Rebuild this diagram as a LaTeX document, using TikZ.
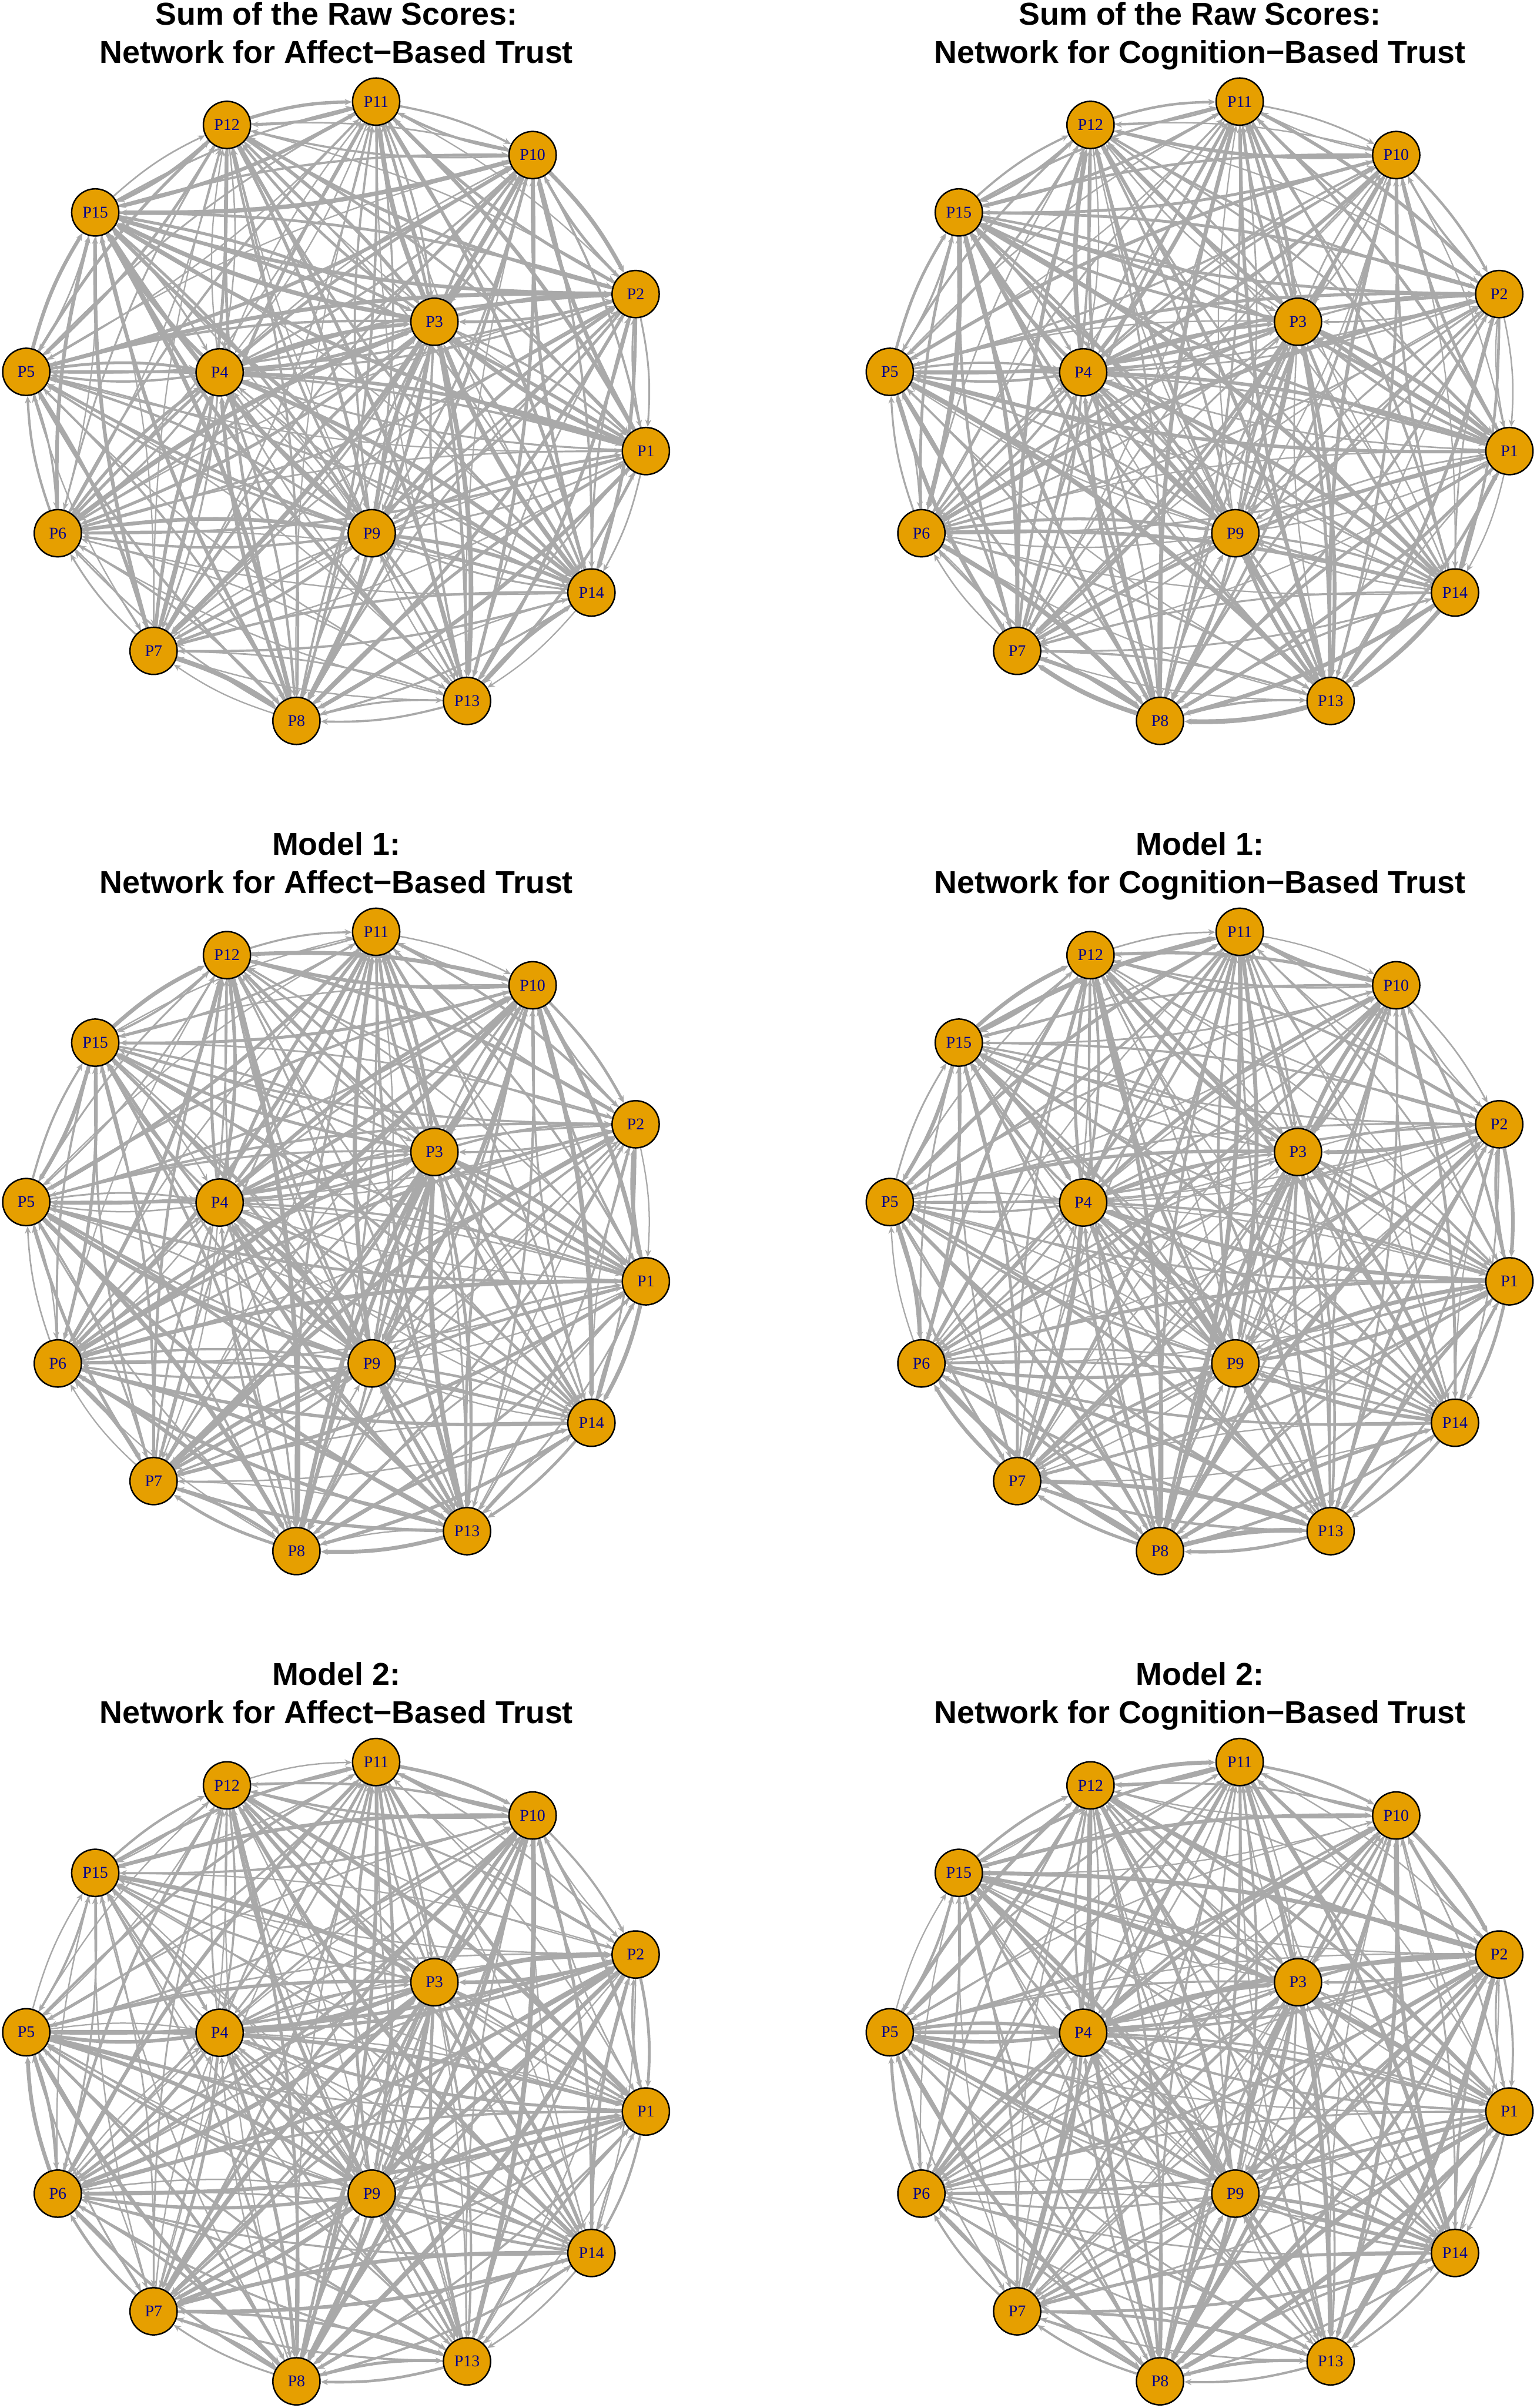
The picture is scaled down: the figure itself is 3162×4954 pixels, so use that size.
\documentclass[tikz,border=0pt]{standalone}
\usepackage{fontspec}
\setmainfont{Liberation Serif}
\newfontfamily\titlefont{Liberation Sans Bold}
\usetikzlibrary{arrows.meta}
\definecolor{nodeorange}{RGB}{230,159,0}
\definecolor{edgegray}{RGB}{169,169,169}
\definecolor{labelblue}{RGB}{0,0,139}
\pgfdeclarelayer{bg}
\pgfdeclarelayer{edges}
\pgfsetlayers{bg,edges,main}
\begin{document}
\begin{tikzpicture}[x=0.01cm,y=-0.01cm,
  pnode/.style={circle,fill=nodeorange,draw=black,line width=0.85pt,minimum size=27.6pt,inner sep=0pt,
    font=\fontsize{9.6}{10}\selectfont,text=labelblue},
  titletext/.style={anchor=base,font=\titlefont\fontsize{18.5}{22}\selectfont},
  netedge/.style={draw=edgegray,-{Stealth[length=4.2pt,width=3.6pt]},bend left=8}]
\begin{pgfonlayer}{bg}
\fill[white] (0,0) rectangle (3162,4954);
\end{pgfonlayer}
\useasboundingbox (0,0) rectangle (3162,4954);
% titles
\foreach \c/\kind in {0/Affect,1/Cognition}{
  \foreach \r/\head in {0/{Sum of the Raw Scores:},1/{Model 1:},2/{Model 2:}}{
    \node[titletext] (t\r\c a) at (692+\c*1777,51+\r*1708) {\head};
    \node[titletext] (t\r\c b) at (692+\c*1777,130+\r*1708) {Network for \kind−Based Trust};
  }
}
% nodes
\foreach \r in {0,1,2}{
  \foreach \c in {0,1}{
    \pgfmathtruncatemacro\k{\r*2+\c+1}
    \pgfmathsetmacro\dx{\c*1777}
    \pgfmathsetmacro\dy{\r*1708}
    \foreach \i/\x/\y in {1/1329/928,2/1308/605,3/894/662,4/452/766,5/54/765,
        6/119/1097,7/316/1339,8/610/1483,9/765/1097,10/1096/319,
        11/774/209,12/467/257,13/961/1442,14/1217/1219,15/196/437}{
      \node[pnode] (n\k-\i) at (\x+\dx,\y+\dy) {P\i};
    }
  }
}
% edges
\begin{pgfonlayer}{edges}
\foreach \k in {1,...,6}{
  \pgfmathtruncatemacro\cog{mod(\k+1,2)}
  \foreach \i in {1,...,15}{
    \foreach \j in {1,...,15}{
      \ifnum\i=\j\relax\else
        \pgfmathtruncatemacro\h{mod(\i*37+\j*91+\k*53+\i*\j*13,29)}
        \ifnum\cog=1
          \pgfmathtruncatemacro\bb{(\i==15)+(\i==4)+(\j==8)+(\j==13)+(\i==8)}
        \else
          \pgfmathtruncatemacro\bb{(\i==10)+(\j==3)+(\i==3)+(\j==8)+(\i==9)}
        \fi
        \pgfmathsetmacro\lw{(2.7+5.5*(\h/28)^2+1.6*min(\bb,1))*0.2845}
        \draw[netedge,line width=\lw pt] (n\k-\i) to (n\k-\j);
      \fi
    }
  }
}
\end{pgfonlayer}
\end{tikzpicture}
\end{document}
